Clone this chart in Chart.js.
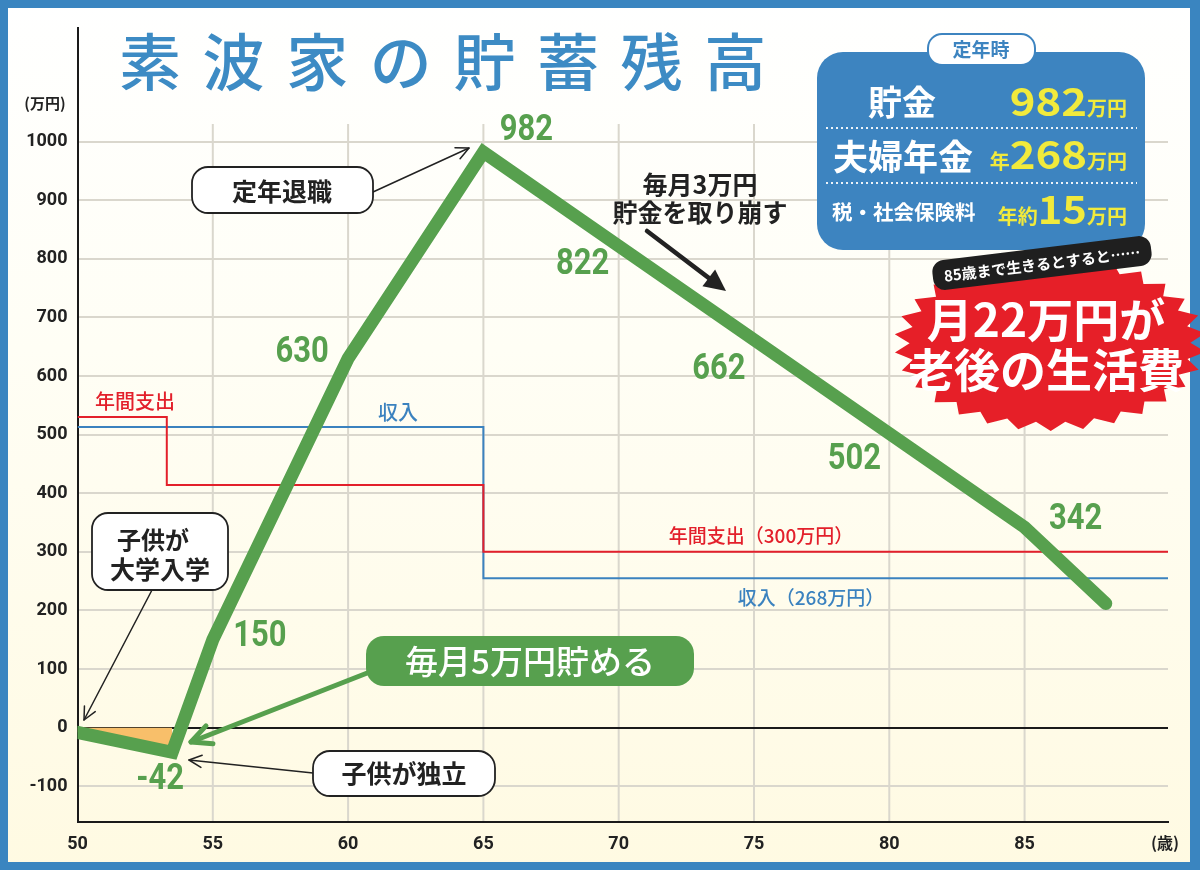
<!DOCTYPE html>
<html lang="ja">
<head>
<meta charset="utf-8">
<title>素波家の貯蓄残高</title>
<script src="https://cdn.jsdelivr.net/npm/chart.js@4.4.1/dist/chart.umd.min.js"></script>
<style>
  html, body { margin: 0; padding: 0; background: #fff; }
  #wrap { width: 1200px; height: 870px; }
</style>
</head>
<body>
<div id="wrap"><canvas id="chart" width="1200" height="870"></canvas></div>
<script>
// savings balance (万円) by age
const savingAges = [50, 53.5, 55, 60, 65, 70, 75, 80, 85, 88];
const savingValues = [-8, -42, 150, 630, 982, 822, 662, 502, 342, 212];
// points that carry a green value label
const labelledPoints = [1, 2, 3, 4, 5, 6, 7, 8];
// annual spending (red step line)
const expenseAges = [50, 53.3, 65, 90.3];
const expenseValues = [530, 414, 300, 300];
// income (blue step line)
const incomeAges = [50, 65, 90.3];
const incomeValues = [513, 255, 255];
// axes
const xTicks = [50, 55, 60, 65, 70, 75, 80, 85];
const yTicks = [-100, 0, 100, 200, 300, 400, 500, 600, 700, 800, 900, 1000];

const JP = '"Noto Sans CJK JP", "Noto Sans", sans-serif';
const NUM = 'Roboto, "Noto Sans", sans-serif';
const GREEN = '#57a04e';
const RED = '#e3202b';
const BLUE = '#3b82bf';

const toXY = (xs, ys) => xs.map((x, i) => ({ x: x, y: ys[i] }));

// where each value label sits relative to its point (px)
const labelOffsets = [[-12, 28], [47, -3], [-46, -5], [43, -21], [-36, 19], [-35, 30], [-35, 27], [51, -7]];

function roundBox(ctx, x, y, w, h, r, fill, stroke, lw) {
  ctx.beginPath();
  ctx.roundRect(x, y, w, h, r);
  if (fill) { ctx.fillStyle = fill; ctx.fill(); }
  if (stroke) { ctx.strokeStyle = stroke; ctx.lineWidth = lw || 2; ctx.stroke(); }
}

function arrow(ctx, x1, y1, x2, y2, color, lw, head, filled) {
  const a = Math.atan2(y2 - y1, x2 - x1);
  ctx.save();
  ctx.strokeStyle = color;
  ctx.fillStyle = color;
  ctx.lineWidth = lw;
  ctx.lineCap = 'round';
  ctx.lineJoin = 'round';
  ctx.beginPath();
  ctx.moveTo(x1, y1);
  if (filled) ctx.lineTo(x2 - head * 0.7 * Math.cos(a), y2 - head * 0.7 * Math.sin(a));
  else ctx.lineTo(x2, y2);
  ctx.stroke();
  ctx.beginPath();
  ctx.moveTo(x2 - head * Math.cos(a - 0.45), y2 - head * Math.sin(a - 0.45));
  ctx.lineTo(x2, y2);
  ctx.lineTo(x2 - head * Math.cos(a + 0.45), y2 - head * Math.sin(a + 0.45));
  if (filled) { ctx.closePath(); ctx.fill(); } else ctx.stroke();
  ctx.restore();
}

function text(ctx, s, x, y, font, color, align, sx) {
  ctx.save();
  ctx.font = font;
  ctx.fillStyle = color;
  ctx.textAlign = align || 'center';
  ctx.textBaseline = 'middle';
  ctx.translate(x, y);
  ctx.scale(sx || 1, 1);
  ctx.fillText(s, 0, 0);
  ctx.restore();
}

// parts drawn left to right, ending at rightX, on one baseline
function rightRun(ctx, parts, rightX, baseY, color) {
  ctx.save();
  ctx.fillStyle = color;
  ctx.textBaseline = 'alphabetic';
  ctx.textAlign = 'left';
  let total = 0;
  parts.forEach(p => { ctx.font = p.font; p.w = ctx.measureText(p.s).width * (p.sx || 1); total += p.w; });
  let cx = rightX - total;
  parts.forEach(p => {
    ctx.save();
    ctx.font = p.font;
    ctx.translate(cx, baseY);
    ctx.scale(p.sx || 1, 1);
    ctx.fillText(p.s, 0, 0);
    ctx.restore();
    cx += p.w;
  });
  ctx.restore();
}

function dotted(ctx, x1, x2, y) {
  ctx.save();
  ctx.strokeStyle = 'rgba(255,255,255,0.9)';
  ctx.lineWidth = 2;
  ctx.setLineDash([2, 3]);
  ctx.beginPath();
  ctx.moveTo(x1, y);
  ctx.lineTo(x2, y);
  ctx.stroke();
  ctx.restore();
}

function burst(ctx, cx, cy, rx, ry, n, inner) {
  ctx.beginPath();
  for (let i = 0; i < n * 2; i++) {
    const a = Math.PI * 2 * i / (n * 2) + 0.1;
    const k = i % 2 ? inner : 1;
    const px = cx + Math.cos(a) * rx * k;
    const py = cy + Math.sin(a) * ry * k;
    if (i) ctx.lineTo(px, py); else ctx.moveTo(px, py);
  }
  ctx.closePath();
}

const decor = {
  id: 'decor',
  beforeDraw(chart) {
    const { ctx, chartArea, scales: { x, y } } = chart;
    ctx.save();
    const g = ctx.createLinearGradient(0, 0, 0, chart.height);
    g.addColorStop(0, '#ffffff');
    g.addColorStop(0.4, '#fffef5');
    g.addColorStop(1, '#fffae2');
    ctx.fillStyle = g;
    ctx.fillRect(0, 0, chart.width, chart.height);
    // vertical grid stops short of the title
    const top = y.getPixelForValue(1030);
    ctx.strokeStyle = '#dad7cd';
    ctx.lineWidth = 2;
    xTicks.slice(1).forEach(v => {
      const px = x.getPixelForValue(v);
      ctx.beginPath();
      ctx.moveTo(px, top);
      ctx.lineTo(px, chartArea.bottom);
      ctx.stroke();
    });
    ctx.restore();
  },
  afterDatasetsDraw(chart) {
    const { ctx } = chart;
    const pts = chart.getDatasetMeta(0).data;
    labelledPoints.forEach((idx, k) => {
      const p = pts[idx];
      text(ctx, String(savingValues[idx]), p.x + labelOffsets[k][0], p.y + labelOffsets[k][1],
        'bold 36px ' + NUM, GREEN, 'center', 0.86);
    });
  },
  afterDraw(chart) {
    const { ctx } = chart;
    ctx.save();

    // title
    const title = '素波家の貯蓄残高';
    [...title].forEach((c, i) => text(ctx, c, 150 + i * 83.6, 62, '500 62px ' + JP, '#3d8bc4'));

    // axis units
    text(ctx, '(万円)', 45, 103, 'bold 15px ' + JP, '#222');
    text(ctx, '(歳)', 1165, 843, 'bold 16px ' + JP, '#222');

    // line captions
    text(ctx, '年間支出', 135, 401, '500 20px ' + JP, RED);
    text(ctx, '収入', 398, 412, '500 20px ' + JP, BLUE);
    text(ctx, '年間支出（300万円）', 761, 536, '500 19px ' + JP, RED);
    text(ctx, '収入（268万円）', 811, 598, '500 19px ' + JP, BLUE);

    // callouts
    arrow(ctx, 373, 192, 469, 148, '#222', 1.5, 14, false);
    roundBox(ctx, 192, 167, 181, 46, 16, '#fff', '#222', 1.8);
    text(ctx, '定年退職', 282, 191, 'bold 25px ' + JP, '#222');

    arrow(ctx, 152, 590, 84, 720, '#222', 1.5, 14, false);
    roundBox(ctx, 92, 513, 136, 77, 16, '#fff', '#222', 1.8);
    text(ctx, '子供が', 153, 540, 'bold 24px ' + JP, '#222');
    text(ctx, '大学入学', 160, 569, 'bold 25px ' + JP, '#222');

    arrow(ctx, 313, 773, 189, 760, '#222', 1.5, 14, false);
    roundBox(ctx, 313, 751, 182, 45, 17, '#fff', '#222', 1.8);
    text(ctx, '子供が独立', 404, 773, 'bold 25px ' + JP, '#222');

    arrow(ctx, 380, 668, 191, 742, GREEN, 5, 22, false);
    roundBox(ctx, 366, 636, 328, 50, 18, GREEN, null);
    text(ctx, '毎月5万円貯める', 530, 661, '500 33px ' + JP, '#fff');

    text(ctx, '毎月3万円', 700, 184, 'bold 25px ' + JP, '#222');
    text(ctx, '貯金を取り崩す', 700, 212, 'bold 25px ' + JP, '#222');
    arrow(ctx, 647, 231, 726, 291, '#222', 4.5, 24, true);

    // info box
    roundBox(ctx, 817, 52, 328, 198, 26, '#3d84c0', null);
    roundBox(ctx, 928, 34, 107, 31, 14, '#fff', '#3d84c0', 2);
    text(ctx, '定年時', 981, 50, 'bold 19px ' + JP, '#3d84c0');
    const Y = '#f1ea3c';
    text(ctx, '貯金', 902, 102, 'bold 34px ' + JP, '#fff');
    rightRun(ctx, [
      { s: '982', font: 'bold 38px ' + JP, sx: 1.15 },
      { s: '万円', font: 'bold 20px ' + JP }
    ], 1127, 116, Y);
    dotted(ctx, 826, 1137, 128);
    text(ctx, '夫婦年金', 833, 157, 'bold 35px ' + JP, '#fff', 'left');
    rightRun(ctx, [
      { s: '年', font: 'bold 20px ' + JP },
      { s: '268', font: 'bold 38px ' + JP, sx: 1.15 },
      { s: '万円', font: 'bold 20px ' + JP }
    ], 1127, 169, Y);
    dotted(ctx, 826, 1137, 183);
    text(ctx, '税・社会保険料', 832, 212, 'bold 20.5px ' + JP, '#fff', 'left');
    rightRun(ctx, [
      { s: '年約', font: 'bold 20px ' + JP },
      { s: '15', font: 'bold 38px ' + JP, sx: 1.1 },
      { s: '万円', font: 'bold 20px ' + JP }
    ], 1127, 224, Y);

    // frame
    ctx.fillStyle = '#3a85c0';
    ctx.fillRect(0, 0, 1200, 8);
    ctx.fillRect(0, 0, 8, 870);
    ctx.fillRect(1190, 0, 10, 870);
    ctx.fillRect(0, 862, 1200, 8);

    // red burst
    burst(ctx, 1050, 343, 156, 88, 30, 0.9);
    ctx.fillStyle = '#e61f28';
    ctx.fill();
    text(ctx, '月22万円が', 1046, 320, 'bold 46px ' + JP, '#fff');
    text(ctx, '老後の生活費', 1046, 370, 'bold 46px ' + JP, '#fff');

    ctx.save();
    ctx.translate(1042, 263);
    ctx.rotate(-7 * Math.PI / 180);
    roundBox(ctx, -110, -15, 220, 30, 12, '#1f1f1f', null);
    text(ctx, '85歳まで生きるとすると……', 0, 1, 'bold 15px ' + JP, '#fff');
    ctx.restore();

    ctx.restore();
  }
};

new Chart(document.getElementById('chart'), {
  type: 'line',
  data: {
    datasets: [
      {
        label: '貯蓄残高',
        data: toXY(savingAges, savingValues),
        borderColor: GREEN,
        borderWidth: 13,
        borderCapStyle: 'round',
        borderJoinStyle: 'miter',
        pointRadius: 0,
        tension: 0,
        order: 0
      },
      {
        label: '年間支出',
        data: toXY(expenseAges, expenseValues),
        borderColor: RED,
        borderWidth: 2,
        stepped: true,
        pointRadius: 0,
        order: 1
      },
      {
        label: '収入',
        data: toXY(incomeAges, incomeValues),
        borderColor: BLUE,
        borderWidth: 2,
        stepped: true,
        pointRadius: 0,
        order: 2
      },
      {
        label: '不足',
        data: toXY(savingAges.slice(0, 2), savingValues.slice(0, 2)),
        borderWidth: 0,
        backgroundColor: '#f8bf6a',
        fill: 'origin',
        pointRadius: 0,
        order: 3
      }
    ]
  },
  options: {
    responsive: false,
    animation: false,
    layout: { padding: { left: 0, top: 28, right: 32, bottom: 0 } },
    plugins: { legend: { display: false }, tooltip: { enabled: false } },
    scales: {
      x: {
        type: 'linear',
        min: 50,
        max: 90.3,
        afterBuildTicks: s => { s.ticks = xTicks.map(v => ({ value: v })); },
        afterFit: s => { s.height = 48; },
        grid: { display: false, drawTicks: false },
        border: { display: true, color: '#1a1a1a', width: 2 },
        ticks: { padding: 12, color: '#222', font: { family: NUM, size: 18, weight: 'bold' },
          callback: v => String(v) }
      },
      y: {
        min: -161,
        max: 1194,
        afterBuildTicks: s => { s.ticks = yTicks.map(v => ({ value: v })); },
        afterFit: s => { s.width = 77.5; },
        grid: {
          drawTicks: false,
          lineWidth: 2,
          color: c => (c.tick && c.tick.value === 0 ? '#1a1a1a' : '#dad7cd')
        },
        border: { display: true, color: '#1a1a1a', width: 2 },
        ticks: { padding: 10, color: '#222', font: { family: NUM, size: 18, weight: 'bold' },
          callback: v => String(v) }
      }
    }
  },
  plugins: [decor]
});
</script>
</body>
</html>
